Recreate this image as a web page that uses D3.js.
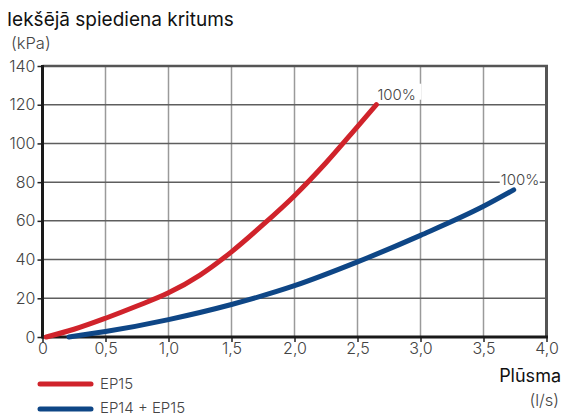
<!DOCTYPE html>
<html><head><meta charset="utf-8">
<script src="https://cdn.jsdelivr.net/npm/d3@7"></script>
<style>body{margin:0;background:#fff}svg{display:block}</style>
</head><body>
<script>
const xTicks = [0, 0.5, 1.0, 1.5, 2.0, 2.5, 3.0, 3.5, 4.0];
const xTickLabels = ["0", "0,5", "1,0", "1,5", "2,0", "2,5", "3,0", "3,5", "4,0"];
const yTicks = [0, 20, 40, 60, 80, 100, 120, 140];
const seriesNames = ["EP15", "EP14 + EP15"];
const ep15 = [[0.03,0],[0.25,4],[0.5,9.7],[0.75,16],[1.0,22.8],[1.25,32],[1.5,44],[1.75,58],[2.0,73],[2.25,90],[2.5,108.7],[2.65,120]];
const ep14ep15 = [[0.21,0],[0.5,2.8],[1.0,9],[1.5,16.8],[2.0,26.5],[2.5,38.8],[3.0,52.5],[3.5,67.5],[3.74,76]];
const endLabels = ["100%", "100%"];

const W = 562, H = 416;
const FONT = "Inter, 'Noto Sans', sans-serif";
const svg = d3.select("body").append("svg").attr("width", W).attr("height", H)
  .style("font-family", FONT);
const x = d3.scaleLinear().domain([0, 4]).range([42.5, 546.5]);
const y = d3.scaleLinear().domain([0, 140]).range([337, 66]);

// vertical grid
svg.append("g").selectAll("line").data(xTicks.slice(1, -1)).join("line")
  .attr("x1", d => x(d)).attr("x2", d => x(d)).attr("y1", y(140)).attr("y2", y(0))
  .attr("stroke", "#9a9a9a").attr("stroke-width", 1.5);
// horizontal grid
svg.append("g").selectAll("line").data(yTicks.slice(1, -1)).join("line")
  .attr("x1", x(0)).attr("x2", x(4)).attr("y1", d => y(d)).attr("y2", d => y(d))
  .attr("stroke", "#5e5e5e").attr("stroke-width", 1.5);
// top & right borders
svg.append("line").attr("x1", x(0)).attr("x2", x(4) + 1.5).attr("y1", y(140)).attr("y2", y(140))
  .attr("stroke", "#555").attr("stroke-width", 2.5);
svg.append("line").attr("x1", x(4)).attr("x2", x(4)).attr("y1", y(140)).attr("y2", y(0))
  .attr("stroke", "#555").attr("stroke-width", 3);

// axes
const yAxis = d3.axisLeft(y).tickValues(yTicks).tickSize(5).tickPadding(2).tickFormat(d3.format("d"));
const gy = svg.append("g").attr("transform", `translate(${x(0)},0)`).call(yAxis);
const xAxis = d3.axisBottom(x).tickValues(xTicks).tickSize(5).tickPadding(1).tickFormat((d, i) => xTickLabels[i]);
const gx = svg.append("g").attr("transform", `translate(0,${y(0)})`).call(xAxis);
[gx, gy].forEach(g => {
  g.select(".domain").remove();
  g.selectAll(".tick line").attr("stroke", "#222").attr("stroke-width", 1.5);
  g.selectAll("text").attr("fill", "#444").style("font-size", "16px").style("font-weight", 300)
    .style("font-family", FONT);
});
svg.append("line").attr("x1", x(0)).attr("x2", x(0)).attr("y1", y(140) - 1).attr("y2", y(0) + 1.5)
  .attr("stroke", "#1a1a1a").attr("stroke-width", 3);
svg.append("line").attr("x1", x(0)).attr("x2", x(4) + 1.5).attr("y1", y(0)).attr("y2", y(0))
  .attr("stroke", "#1a1a1a").attr("stroke-width", 3);

// curves
const line = d3.line().x(d => x(d[0])).y(d => y(d[1])).curve(d3.curveMonotoneX);
const colors = ["#d0232b", "#0e4686"];
[ep15, ep14ep15].forEach((s, i) => {
  svg.append("path").datum(s).attr("d", line).attr("fill", "none")
    .attr("stroke", colors[i]).attr("stroke-width", 5).attr("stroke-linecap", "round");
});

// end labels with white backgrounds
const lab = [
  {s: ep15, dx: 1, dy: -5, box: [0, -16, 44, 20]},
  {s: ep14ep15, dx: -13, dy: -5, box: [-1, -16, 40, 20]}
];
lab.forEach((l, i) => {
  const p = l.s[l.s.length - 1];
  const tx = x(p[0]) + l.dx, ty = y(p[1]) + l.dy;
  svg.append("rect").attr("x", tx + l.box[0]).attr("y", ty + l.box[1]).attr("width", l.box[2]).attr("height", l.box[3] - 4)
    .attr("fill", "#fff");
  svg.append("text").attr("x", tx).attr("y", ty).text(endLabels[i])
    .attr("fill", "#444").style("font-size", "15px").style("font-weight", 300);
});

// titles
svg.append("text").attr("x", 7).attr("y", 26).text("Iekšējā spiediena kritums")
  .attr("fill", "#111").style("font-size", "19px").style("font-weight", 400);
svg.append("text").attr("x", 11).attr("y", 49).text("(kPa)")
  .attr("fill", "#444").style("font-size", "16.5px").style("font-weight", 300);
svg.append("text").attr("x", 561).attr("y", 382).attr("text-anchor", "end").text("Plūsma")
  .attr("fill", "#111").style("font-size", "18px").style("font-weight", 400);
svg.append("text").attr("x", 559).attr("y", 406).attr("text-anchor", "end").text("(l/s)")
  .attr("fill", "#444").style("font-size", "16.5px").style("font-weight", 300);

// legend
seriesNames.forEach((n, i) => {
  const ly = 384 + i * 25;
  svg.append("line").attr("x1", 40).attr("x2", 91).attr("y1", ly).attr("y2", ly)
    .attr("stroke", colors[i]).attr("stroke-width", 5).attr("stroke-linecap", "round");
  svg.append("text").attr("x", 100).attr("y", ly + 5 - i).text(n)
    .attr("fill", "#444").style("font-size", "15px").style("font-weight", 300);
});
</script>
</body></html>
